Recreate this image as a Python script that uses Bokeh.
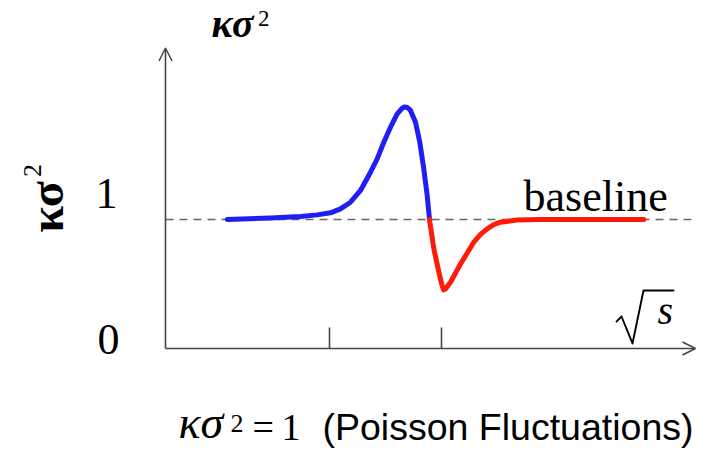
from bokeh.plotting import figure
from bokeh.models import Range1d, Label, Arrow, OpenHead, PolyAnnotation
from bokeh.embed import file_html
from bokeh.resources import INLINE
import math

# ---- data (schematic: x = sqrt(s) in arbitrary units, y = kappa*sigma^2) ----
blue_x = [0.617, 1.05, 1.35, 1.517, 1.65, 1.75, 1.85, 1.95, 2.05, 2.117, 2.183,
          2.25, 2.317, 2.367, 2.39, 2.41, 2.43, 2.45, 2.50, 2.543, 2.583, 2.617, 2.64]
blue_y = [1.000, 1.012, 1.023, 1.036, 1.052, 1.083, 1.134, 1.225, 1.367, 1.470, 1.599,
          1.716, 1.819, 1.863, 1.873, 1.871, 1.862, 1.845, 1.754, 1.599, 1.393, 1.186, 1.000]
red_x = [2.64, 2.683, 2.733, 2.765, 2.78, 2.80, 2.85, 2.95, 3.083, 3.15, 3.217, 3.283,
         3.35, 3.517, 3.75, 4.783]
red_y = [1.000, 0.775, 0.594, 0.49, 0.455, 0.462, 0.514, 0.656, 0.824, 0.885, 0.928, 0.961,
         0.979, 0.997, 1.000, 1.000]
baseline_level = 1.0
x_ticks = [1.64, 2.76]
y_tick_labels = ["0", "1"]
y_tick_values = [0, 1]
x_axis_end = 5.30
y_axis_end = 2.33
baseline_end = 5.32

p = figure(width=705, height=449, output_backend="svg", toolbar_location=None,
           x_range=Range1d(-1.65, 5.40), y_range=Range1d(-0.783, 2.698),
           x_axis_type=None, y_axis_type=None, min_border=0)
p.outline_line_color = None
p.background_fill_color = "white"
p.border_fill_color = "white"
p.grid.visible = False

axis_color = "#444444"

# dashed baseline
p.line([0, baseline_end], [baseline_level, baseline_level], line_color="#666666",
       line_width=1.6, line_dash="8 6")

# axes with arrows
p.add_layout(Arrow(end=OpenHead(size=13, line_color=axis_color, line_width=1.5),
                   x_start=0, y_start=0, x_end=x_axis_end, y_end=0,
                   line_color=axis_color, line_width=1.6))
p.add_layout(Arrow(end=OpenHead(size=13, line_color=axis_color, line_width=1.5),
                   x_start=0, y_start=0, x_end=0, y_end=y_axis_end,
                   line_color=axis_color, line_width=1.6))

# x ticks (drawn upward)
p.segment(x0=x_ticks, y0=[0] * len(x_ticks), x1=x_ticks, y1=[0.163] * len(x_ticks),
          line_color=axis_color, line_width=1.6)

# curves
p.line(blue_x, blue_y, line_color="#1f1ff5", line_width=5, line_cap="round", line_join="round")
p.line(red_x, red_y, line_color="#ff1a0a", line_width=5, line_cap="round", line_join="round")

serif = "Liberation Serif"
sans = "Liberation Sans"

# y tick labels (placed slightly above their levels, as in the sketch)
tick_label_x = [-0.68, -0.70]
tick_label_y = [-0.042, 1.09]
for lab, tx, ty in zip(y_tick_labels, tick_label_x, tick_label_y):
    p.add_layout(Label(x=tx, y=ty, text=lab, text_font=serif,
                       text_font_size="44px", text_color="black"))

# top axis label
p.add_layout(Label(x=0.46, y=2.345, text="κσ", text_font=serif, text_font_size="40px",
                   text_font_style="bold italic", text_color="black"))
p.add_layout(Label(x=0.925, y=2.50, text="2", text_font=serif, text_font_size="23px",
                   text_color="black"))

# rotated y title
p.add_layout(Label(x=-0.93, y=0.90, text="κσ", text_font=serif, text_font_size="48px",
                   text_font_style="bold", angle=math.pi / 2, text_color="black"))
p.add_layout(Label(x=-1.244, y=1.33, text="2", text_font=serif, text_font_size="26px",
                   angle=math.pi / 2, text_color="black"))

# baseline text
p.add_layout(Label(x=3.58, y=0.992, text="baseline", text_font=serif,
                   text_font_size="44px", text_color="black"))

# sqrt(s): radical drawn as an open stroke, then italic s
p.add_layout(PolyAnnotation(
    xs=[4.51, 4.56, 4.67, 4.78, 5.08, 4.78, 4.67, 4.56],
    ys=[0.209, 0.248, 0.039, 0.450, 0.450, 0.450, 0.039, 0.248],
    fill_alpha=0, line_color="black", line_alpha=1.0, line_width=1.9,
    line_join="round"))
p.add_layout(Label(x=4.92, y=0.124, text="s", text_font=serif, text_font_size="40px",
                   text_font_style="italic", text_color="black"))

# bottom caption
p.add_layout(Label(x=0.13, y=-0.775, text="κσ", text_font=serif, text_font_size="46px",
                   text_font_style="italic", text_color="black"))
p.add_layout(Label(x=0.65, y=-0.648, text="2", text_font=serif, text_font_size="26px",
                   text_color="black"))
p.add_layout(Label(x=0.87, y=-0.775, text="=\u20091", text_font=serif, text_font_size="38px",
                   text_color="black"))
p.add_layout(Label(x=1.57, y=-0.775, text="(Poisson Fluctuations)", text_font=sans,
                   text_font_size="37.5px", text_color="black"))

open("out.html", "w").write(file_html(p, INLINE))
